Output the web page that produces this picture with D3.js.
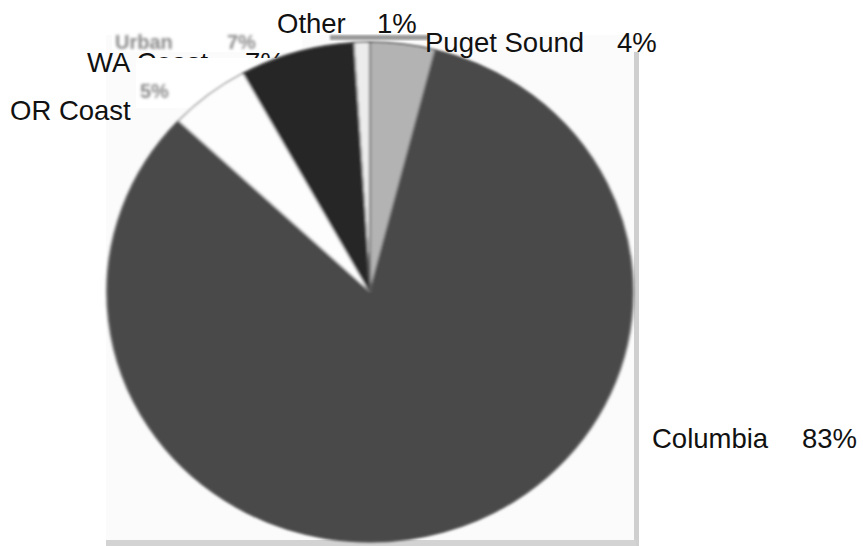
<!DOCTYPE html>
<html>
<head>
<meta charset="utf-8">
<script src="https://cdn.jsdelivr.net/npm/d3@7"></script>
<style>
  body { margin: 0; background: #fff; }
  svg { display: block; }
  text { font-family: "Liberation Sans", Arial, sans-serif; }
</style>
</head>
<body>
<svg width="863" height="546"></svg>
<script>
// slice order runs clockwise from just left of 12 o'clock
var regions = ["Other", "Puget Sound", "Columbia", "OR Coast", "WA Coast"];
var shares = [1, 4, 83, 5, 7];

var svg = d3.select("svg"),
  width = +svg.attr("width"),
  height = +svg.attr("height");

var fs = 27.5;

var color = d3.scaleOrdinal()
  .domain(regions)
  .range(["#ececec", "#b3b3b3", "#4a4a4a", "#fdfdfd", "#262626"]);

// where each label sits: name x, percent x, baseline
var labelPos = {
  "Other": [277, 377, 33],
  "Puget Sound": [425, 617, 52],
  "Columbia": [652, 802, 448],
  "WA Coast": [87, 245, 72],
  "OR Coast": [10, 140, 120]
};

var defs = svg.append("defs");
defs.append("filter").attr("id", "soft")
  .append("feGaussianBlur").attr("stdDeviation", 1.3);
defs.append("filter").attr("id", "smear")
  .append("feGaussianBlur").attr("stdDeviation", 1.8);

// the scanned box behind the pie
svg.append("rect")
  .attr("x", 106).attr("y", 35)
  .attr("width", 530).attr("height", 506)
  .attr("fill", "#fbfbfb");
svg.append("rect")
  .attr("x", 634).attr("y", 52)
  .attr("width", 5).attr("height", 494)
  .attr("fill", "#cfcfcf");
svg.append("rect")
  .attr("x", 106).attr("y", 540)
  .attr("width", 530).attr("height", 6)
  .attr("fill", "#d3d3d3");

// WA Coast label goes under the patch and the pie
var wa = labelPos["WA Coast"];
svg.append("text").attr("x", wa[0]).attr("y", wa[2])
  .attr("font-size", fs).attr("fill", "#111")
  .text("WA Coast");
svg.append("text").attr("x", wa[1]).attr("y", wa[2])
  .attr("font-size", fs).attr("fill", "#111")
  .text(shares[regions.indexOf("WA Coast")] + "%");

// pasted white patch with smeared text
svg.append("rect")
  .attr("x", 136).attr("y", 58)
  .attr("width", 170).attr("height", 50)
  .attr("fill", "#fff");
svg.append("rect")
  .attr("x", 112).attr("y", 32)
  .attr("width", 190).attr("height", 20)
  .attr("fill", "#fff");
var smear = svg.append("g").attr("filter", "url(#smear)")
  .attr("fill", "#8a8a8a").attr("font-size", 20).attr("font-weight", "bold");
smear.append("text").attr("x", 115).attr("y", 49).text("Urban");
smear.append("text").attr("x", 227).attr("y", 49).text("7%");
var orp = labelPos["OR Coast"];
smear.append("text").attr("x", orp[1]).attr("y", 98)
  .text(shares[regions.indexOf("OR Coast")] + "%");

// pie
var pie = d3.pie()
  .sort(null)
  .startAngle(-0.01 * 2 * Math.PI)
  .endAngle(0.99 * 2 * Math.PI)
  .value(function(d) { return d; });

var arc = d3.arc().innerRadius(0).outerRadius(250);

var g = svg.append("g")
  .attr("transform", "translate(370,292) scale(1.052,1)")
  .attr("filter", "url(#soft)");

g.selectAll("path")
  .data(pie(shares))
  .enter()
  .append("path")
    .attr("d", arc)
    .attr("fill", function(d, i) { return color(regions[i]); })
    .attr("stroke", function(d, i) { return regions[i] == "OR Coast" ? "#9a9a9a" : "#5a5a5a"; })
    .attr("stroke-width", 1.5)
    .attr("vector-effect", "non-scaling-stroke");

// flat top edge of the scan over the small slices
svg.append("rect")
  .attr("x", 330).attr("y", 35)
  .attr("width", 98).attr("height", 5)
  .attr("fill", "#9a9a9a")
  .attr("filter", "url(#soft)");

// remaining labels
["Other", "Puget Sound", "Columbia"].forEach(function(name) {
  var p = labelPos[name];
  svg.append("text").attr("x", p[0]).attr("y", p[2])
    .attr("font-size", fs).attr("fill", "#111")
    .text(name);
  svg.append("text").attr("x", p[1]).attr("y", p[2])
    .attr("font-size", fs).attr("fill", "#111")
    .text(shares[regions.indexOf(name)] + "%");
});
svg.append("text").attr("x", orp[0]).attr("y", orp[2])
  .attr("font-size", fs).attr("fill", "#111")
  .text("OR Coast");
</script>
</body>
</html>
